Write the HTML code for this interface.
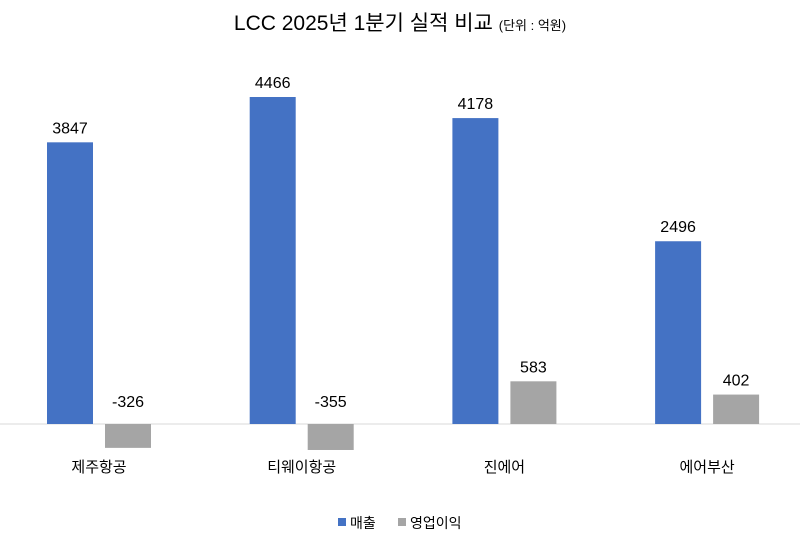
<!DOCTYPE html>
<html><head><meta charset="utf-8"><style>
body{margin:0;background:#fff;}
svg text{font-family:"Liberation Sans","Noto Sans CJK KR",sans-serif;fill:#000;}
</style></head><body>
<svg width="800" height="540" viewBox="0 0 800 540">
<rect width="800" height="540" fill="#fff"/>
<text x="400" y="30" text-anchor="middle" font-size="21">LCC 2025년 1분기 실적 비교 <tspan font-size="13">(단위 : 억원)</tspan></text>
<g id="plot"></g>
<g>
<rect x="338" y="518" width="8" height="8" fill="#4472C4"/>
<text x="350" y="528" font-size="14">매출</text>
<rect x="398" y="518" width="8" height="8" fill="#A5A5A5"/>
<text x="410" y="528" font-size="14">영업이익</text>
</g>
</svg>
<script>
const categories=["제주항공","티웨이항공","진에어","에어부산"];
const sales=[3847,4466,4178,2496];
const profit=[-326,-355,583,402];
const baseY=424, scale=327/4466, catW=202.7, plotX=0;
const y=v=>baseY-v*scale;
const g=document.getElementById('plot');
const NS="http://www.w3.org/2000/svg";
function mk(t,a){const e=document.createElementNS(NS,t);for(const k in a)e.setAttribute(k,a[k]);g.appendChild(e);return e;}
const ax=mk('line',{x1:0,x2:800,y1:baseY,y2:baseY,stroke:'#d9d9d9','stroke-width':1});


categories.forEach((c,i)=>{
  const x0=plotX+i*catW;
  [[sales[i],47,'#4472C4','sales'],[profit[i],105,'#A5A5A5','profit']].forEach(([v,off,col,nm])=>{
    const top=Math.min(y(v),baseY),h=Math.abs(y(v)-baseY);
    const r=mk('rect',{x:x0+off,y:top,width:46,height:h,fill:col});
    
    
    const ly=v>=0?y(v)-9:baseY-17;
    const t=mk('text',{x:x0+off+23,y:ly,'text-anchor':'middle','font-size':16});
    t.textContent=v;
    
    
  });
  const ct=mk('text',{x:x0+99,y:472,'text-anchor':'middle','font-size':15});
  ct.textContent=c;
  
  
});
</script>
</body></html>
